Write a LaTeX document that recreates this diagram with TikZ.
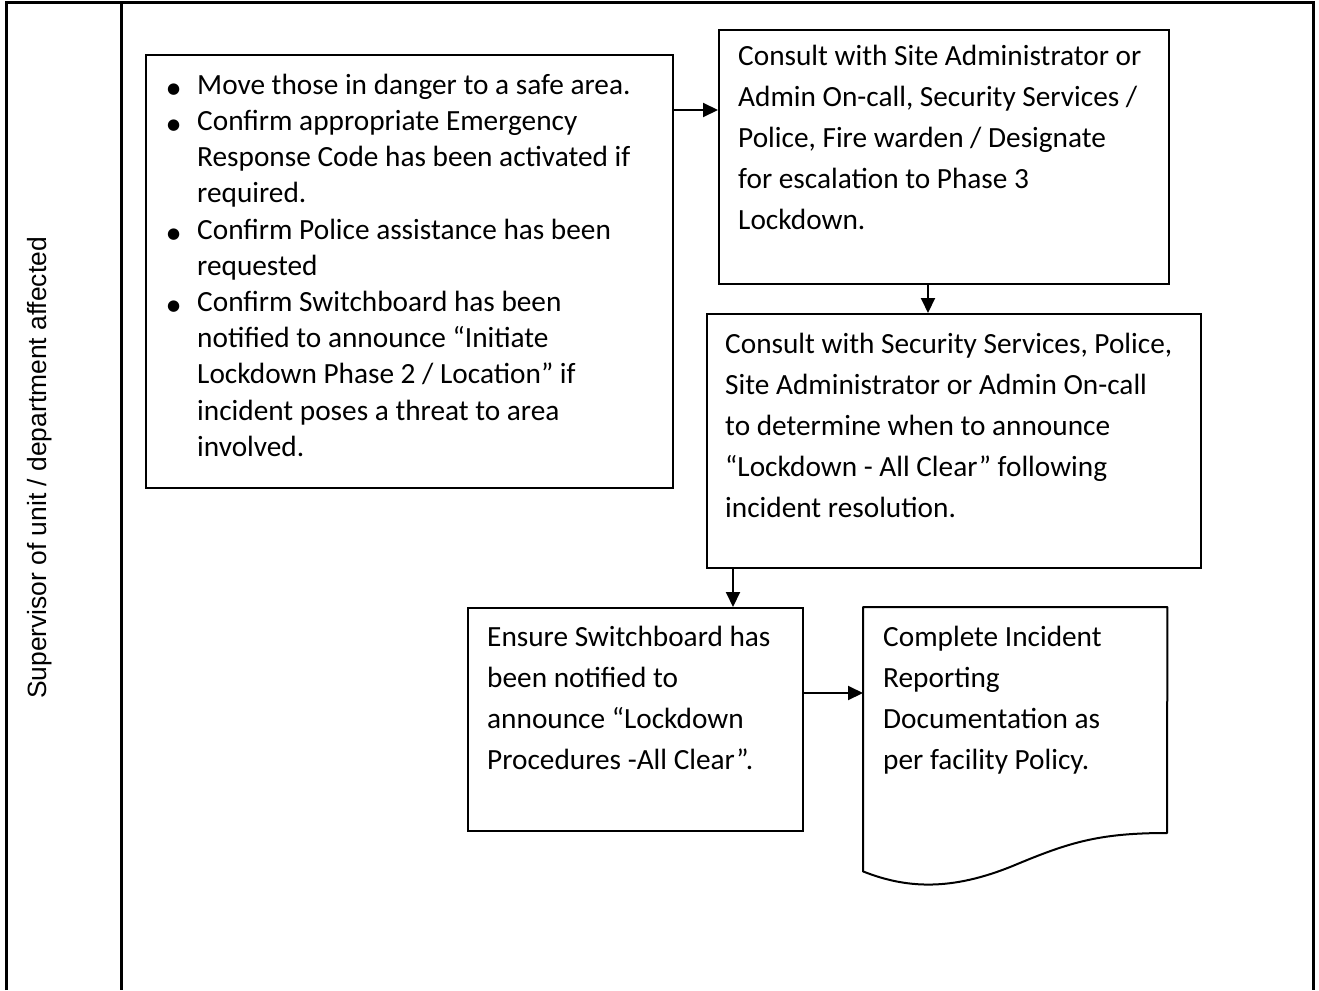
\documentclass[tikz,border=0pt]{standalone}
\usepackage{fontspec}
\setmainfont{Carlito}
\newfontfamily\labelfont{Liberation Sans}
\newfontfamily\bulletfont{DejaVu Sans}
\usetikzlibrary{arrows.meta}
\newcommand{\bul}{\raisebox{1pt}{\bulletfont\fontsize{15}{15}\selectfont ●}}
\begin{document}
\begin{tikzpicture}[x=1pt,y=-1pt,
  tableline/.style={line width=3pt},
  boxstyle/.style={draw, line width=2pt, rectangle, inner sep=0pt, anchor=north west},
  txt/.style={anchor=north west, inner sep=0pt, font=\fontsize{29.3}{41}\selectfont},
  bultxt/.style={anchor=north west, inner sep=0pt, font=\fontsize{29.3}{36.2}\selectfont},
  arr/.style={line width=2pt, -{Triangle[length=15pt,width=14pt]}}]
\useasboundingbox (0,0) rectangle (1319,990);
% table
\draw[tableline] (6,990) -- (6,3) -- (1313,3) -- (1313,990);
\draw[tableline] (121,3) -- (121,990);
\node[rotate=90, inner sep=0pt, font=\labelfont\fontsize{26.4}{30}\selectfont] (lane) at (40,468) {Supervisor of unit / department affected};
% boxes
\node[boxstyle, minimum width=527pt, minimum height=433pt] (b1) at (145,54) {};
\node[boxstyle, minimum width=450pt, minimum height=254pt] (b2) at (718,29) {};
\node[boxstyle, minimum width=494pt, minimum height=254pt] (b3) at (706,313) {};
\node[boxstyle, minimum width=335pt, minimum height=223pt] (b4) at (467,607) {};
\node[anchor=north west, inner sep=0pt, minimum width=304pt, minimum height=264pt] (b5) at (863,607) {};
\draw[line width=2pt, line join=round] (b5.south west) -- (b5.north west) -- (b5.north east) -- (1167,833)
  .. controls (1100,833) and (1070,842) .. (1015,865)
  .. controls (950,892) and (905,888) .. (b5.south west) -- cycle;
% texts
\node[bultxt] (t1) at (167,68.8) {\begin{tabular}{@{}l@{}l@{}}
\makebox[30pt][l]{\bul} & Move those in danger to a safe area.\\
\makebox[30pt][l]{\bul} & Confirm appropriate Emergency\\
 & Response Code has been activated if\\
 & required.\\
\makebox[30pt][l]{\bul} & Confirm Police assistance has been\\
 & requested\\
\makebox[30pt][l]{\bul} & Confirm Switchboard has been\\
 & notified to announce “Initiate\\
 & Lockdown Phase 2 / Location” if\\
 & incident poses a threat to area\\
 & involved.
\end{tabular}};
\node[txt] (t2) at (738,36.3) {\begin{tabular}{@{}l@{}}
Consult with Site Administrator or\\
Admin On-call, Security Services /\\
Police, Fire warden / Designate\\
for escalation to Phase 3\\
Lockdown.
\end{tabular}};
\node[txt] (t3) at (725,324.3) {\begin{tabular}{@{}l@{}}
Consult with Security Services, Police,\\
Site Administrator or Admin On-call\\
to determine when to announce\\
“Lockdown - All Clear” following\\
incident resolution.
\end{tabular}};
\node[txt] (t4) at (487,617.3) {\begin{tabular}{@{}l@{}}
Ensure Switchboard has\\
been notified to\\
announce “Lockdown\\
Procedures -All Clear”.
\end{tabular}};
\node[txt] (t5) at (883,617.3) {\begin{tabular}{@{}l@{}}
Complete Incident\\
Reporting\\
Documentation as\\
per facility Policy.
\end{tabular}};
% connectors
\coordinate (c1) at (0,110);
\coordinate (c2) at (928,0);
\coordinate (c3) at (733,0);
\coordinate (c4) at (0,693);
\draw[arr] (b1.east |- c1) -- (b2.west |- c1);
\draw[arr] (b2.south -| c2) -- (b3.north -| c2);
\draw[arr] (b3.south -| c3) -- (b4.north -| c3);
\draw[arr] (b4.east |- c4) -- (b5.west |- c4);
\end{tikzpicture}
\end{document}
